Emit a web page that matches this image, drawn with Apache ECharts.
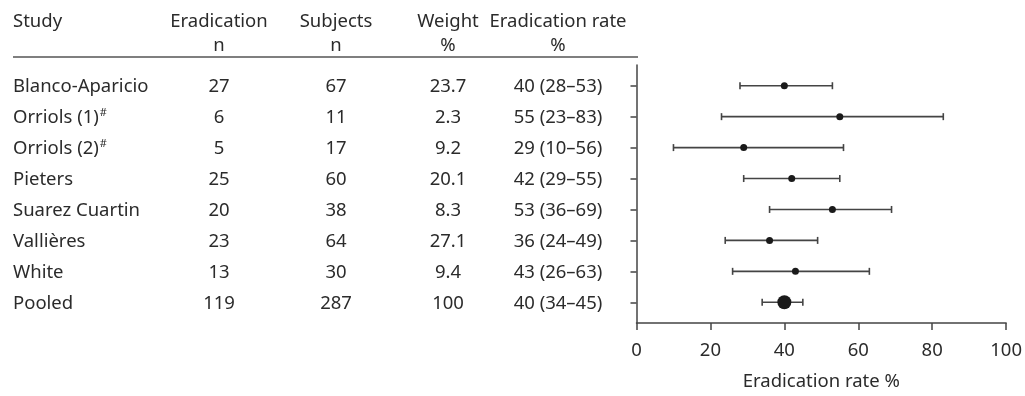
<!DOCTYPE html>
<html><head><meta charset="utf-8">
<script src="https://cdn.jsdelivr.net/npm/echarts@6/dist/echarts.min.js"></script>
<style>html,body{margin:0;padding:0;background:#fff}#c{width:1025px;height:396px}</style>
</head><body><div id="c"></div>
<script>
const studies = ['Blanco-Aparicio','Orriols (1)','Orriols (2)','Pieters','Suarez Cuartin','Vallières','White','Pooled'];
const superscripts = ['', '#', '#', '', '', '', '', ''];
const eradicationN = [27, 6, 5, 25, 20, 23, 13, 119];
const subjectsN = [67, 11, 17, 60, 38, 64, 30, 287];
const weightPct = ['23.7', '2.3', '9.2', '20.1', '8.3', '27.1', '9.4', '100'];
const rate = [40, 55, 29, 42, 53, 36, 43, 40];
const ciLow = [28, 23, 10, 29, 36, 24, 26, 34];
const ciHigh = [53, 83, 56, 55, 69, 49, 63, 45];
const xTicks = [0, 20, 40, 60, 80, 100];
const headers1 = ['Study', 'Eradication', 'Subjects', 'Weight', 'Eradication rate'];
const headers2 = ['', 'n', 'n', '%', '%'];
const pooledIndex = 7;

const FONT = 'Noto Sans';
const FS = 18.5;
const TXT = '#2b2b2b';
const LINE = '#444';
const colX = [13, 219, 336, 448, 558];
const colAlign = ['left', 'center', 'center', 'center', 'center'];

const rows = studies.map((s, i) => i + 1);

const chart = echarts.init(document.getElementById('c'), null, {renderer: 'canvas'});

const graphics = [];
headers1.forEach((h, k) => {
  graphics.push({type: 'text', x: colX[k], y: 21.5, style: {text: h, fill: TXT, font: FS + 'px ' + FONT, align: colAlign[k], verticalAlign: 'middle'}});
  if (headers2[k]) graphics.push({type: 'text', x: colX[k], y: 46, style: {text: headers2[k], fill: TXT, font: FS + 'px ' + FONT, align: colAlign[k], verticalAlign: 'middle'}});
});
graphics.push({type: 'line', shape: {x1: 13, y1: 57, x2: 638, y2: 57}, style: {stroke: '#555', lineWidth: 1.5}});

const option = {
  animation: false,
  backgroundColor: '#fff',
  textStyle: {fontFamily: FONT},
  graphic: graphics,
  grid: {left: 636.5, right: 18.5, top: 65, bottom: 69, containLabel: false},
  xAxis: {
    type: 'value', min: 0, max: 100, interval: 20,
    axisLine: {show: true, lineStyle: {color: LINE, width: 1.5}},
    axisTick: {show: true, length: 7, lineStyle: {color: LINE, width: 1.5}},
    axisLabel: {fontSize: FS, color: TXT, margin: 18, fontFamily: FONT, customValues: xTicks},
    splitLine: {show: false},
    name: 'Eradication rate %', nameLocation: 'middle', nameGap: 49,
    nameTextStyle: {fontSize: FS, color: TXT, fontFamily: FONT}
  },
  yAxis: {
    type: 'value', inverse: true, min: 0.33, max: 8.67,
    axisLine: {show: true, lineStyle: {color: LINE, width: 1.5}},
    axisTick: {show: true, length: 6, customValues: rows, lineStyle: {color: LINE, width: 1.5}},
    axisLabel: {show: false},
    splitLine: {show: false}
  },
  series: [
    {
      type: 'custom', name: 'table', clip: false, silent: true,
      data: rows.map(r => [0, r]),
      renderItem(params, api) {
        const i = params.dataIndex;
        const y = api.coord([0, rows[i]])[1] + 1.5;
        const vals = [
          superscripts[i] ? '{a|' + studies[i] + '}{s|' + superscripts[i] + '}' : '{a|' + studies[i] + '}',
          String(eradicationN[i]), String(subjectsN[i]), weightPct[i],
          rate[i] + ' (' + ciLow[i] + '–' + ciHigh[i] + ')'
        ];
        return {type: 'group', children: vals.map((v, k) => ({
          type: 'text', x: colX[k], y: y,
          style: k === 0 ? {
            text: v, align: 'left', verticalAlign: 'middle',
            rich: {
              a: {fontSize: FS, fontFamily: FONT, fill: TXT, color: TXT},
              s: {fontSize: 11, fontFamily: FONT, fill: TXT, color: TXT, verticalAlign: 'top', padding: [0, 0, 10, 1]}
            }
          } : {text: v, fill: TXT, font: FS + 'px ' + FONT, align: 'center', verticalAlign: 'middle'}
        }))};
      }
    },
    {
      type: 'custom', name: 'ci', clip: false, silent: true,
      data: rows.map((r, i) => [ciLow[i], ciHigh[i], r]),
      renderItem(params, api) {
        const lo = api.coord([api.value(0), api.value(2)]);
        const hi = api.coord([api.value(1), api.value(2)]);
        const h = 3.5;
        const st = {stroke: LINE, lineWidth: 1.6};
        return {type: 'group', children: [
          {type: 'line', shape: {x1: lo[0], y1: lo[1], x2: hi[0], y2: hi[1]}, style: st},
          {type: 'line', shape: {x1: lo[0], y1: lo[1] - h, x2: lo[0], y2: lo[1] + h}, style: st},
          {type: 'line', shape: {x1: hi[0], y1: hi[1] - h, x2: hi[0], y2: hi[1] + h}, style: st}
        ]};
      }
    },
    {
      type: 'scatter', name: 'rate', silent: true,
      data: rows.map((r, i) => [rate[i], r]),
      symbol: 'circle',
      symbolSize: (v, p) => p.dataIndex === pooledIndex ? 14 : 7,
      itemStyle: {color: '#1a1a1a', opacity: 1},
      z: 5
    }
  ]
};
chart.setOption(option);
</script></body></html>
